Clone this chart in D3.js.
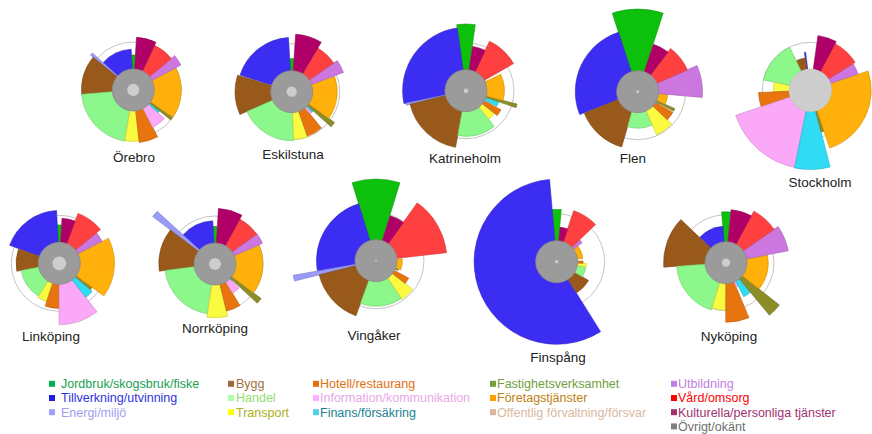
<!DOCTYPE html>
<html><head><meta charset="utf-8">
<script src="https://cdn.jsdelivr.net/npm/d3@7"></script>
<style>body{margin:0;background:#fff} svg{display:block} text{font-family:"Liberation Sans",Arial,sans-serif}</style>
</head><body><svg id="c" width="872" height="434"></svg>
<script>
const categories = ["Jordbruk/skogsbruk/fiske","Tillverkning/utvinning","Energi/miljö","Bygg","Handel","Transport","Hotell/restaurang","Information/kommunikation","Finans/försäkring","Fastighetsverksamhet","Företagstjänster","Offentlig förvaltning/försvar","Utbildning","Vård/omsorg","Kulturella/personliga tjänster","Övrigt/okänt"];
const municipalities = ["Örebro","Eskilstuna","Katrineholm","Flen","Stockholm","Linköping","Norrköping","Vingåker","Finspång","Nyköping"];

// angular share of each branch (sector width)
const shareOrebro      = [6, 45, 3, 44, 76, 16, 21, 20, 4, 4, 62, 0.5, 12, 25, 22, 0.5];
const shareEskilstuna  = [7, 69, 1, 41, 69, 17, 20, 5, 4, 6, 56, 0.5, 14, 25, 27, 0.5];
const shareKatrineholm = [16, 94, 2, 66, 49, 13, 10, 2, 8, 4, 40, 0.5, 4, 35, 17, 0.5];
const shareFlen        = [36, 94, 0.5, 52, 40, 23, 13, 1, 1, 4, 19, 0.5, 29, 29, 19, 0.5];
const shareStockholm   = [14, 2, 0.5, 16, 52, 15, 16, 60, 26, 4, 90, 0.5, 13, 30, 20, 1];
const shareLinkoping   = [6, 67, 0.5, 30, 47, 14, 18, 38, 12, 4, 63, 0.5, 12, 30, 17, 0.5];
const shareNorrkoping  = [6, 44, 5, 44, 73, 22, 17, 14, 2, 6, 59, 0.5, 12, 25, 25, 0.5];
const shareVingaker    = [34, 83, 4, 56, 54, 18, 10, 2, 2, 4, 24, 0.5, 2, 48, 18, 0.5];
const shareFinspang    = [10, 208, 0.5, 27, 20, 7, 5, 2, 2, 2, 29, 0.5, 7, 28, 13, 0.5];
const shareNykoping    = [10, 41, 0.5, 48, 69, 17, 23, 5, 12, 12, 49, 0.5, 24, 27, 23, 0.5];

// relative index of each branch (1 = reference circle)
const ratioOrebro      = [0.73, 0.85, 1.15, 1.08, 1.08, 1.07, 1.1, 0.88, 0.7, 1.0, 1.0, 0.4, 1.12, 1.03, 1.1, 0.4];
const ratioEskilstuna  = [0.69, 1.13, 0.5, 1.18, 1.02, 1.0, 0.98, 0.6, 0.6, 1.1, 0.95, 0.4, 1.15, 1.06, 1.2, 0.4];
const ratioKatrineholm = [1.39, 1.32, 1.28, 1.2, 0.95, 0.76, 0.83, 0.5, 0.72, 1.1, 0.8, 0.4, 0.45, 1.14, 0.93, 0.4];
const ratioFlen        = [1.72, 1.3, 0.5, 1.2, 0.76, 0.98, 0.85, 0.4, 0.5, 0.85, 0.63, 0.4, 1.35, 1.13, 1.04, 0.4];
const ratioStockholm   = [0.3, 0.8, 0.4, 0.68, 1.0, 0.77, 1.08, 1.64, 1.65, 0.9, 1.27, 0.4, 1.05, 1.1, 1.15, 0.4];
const ratioLinkoping   = [0.8, 1.1, 0.4, 0.9, 0.81, 0.84, 0.94, 1.28, 0.9, 0.85, 1.15, 0.4, 1.0, 1.11, 0.94, 0.4];
const ratioNorrkoping  = [0.78, 0.9, 1.63, 1.17, 1.05, 1.12, 1.01, 0.71, 0.5, 1.2, 1.0, 0.4, 1.08, 1.07, 1.16, 0.4];
const ratioVingaker    = [1.7, 1.24, 1.75, 1.22, 0.95, 0.97, 0.77, 0.4, 0.4, 0.5, 0.55, 0.4, 0.4, 1.48, 0.98, 0.4];
const ratioFinspang    = [1.09, 1.72, 0.4, 0.77, 0.62, 0.62, 0.55, 0.4, 0.4, 0.4, 0.55, 0.4, 0.66, 1.12, 0.72, 0.4];
const ratioNykoping    = [1.06, 0.76, 0.4, 1.3, 1.03, 0.99, 1.24, 0.55, 0.8, 1.42, 0.88, 0.4, 1.32, 1.22, 1.11, 0.4];

// size of municipality (inner light disc)
const sizes = [53, 37, 7, 3, 650, 66, 50, 1.2, 3.8, 24];

const shares = [shareOrebro, shareEskilstuna, shareKatrineholm, shareFlen, shareStockholm, shareLinkoping, shareNorrkoping, shareVingaker, shareFinspang, shareNykoping];
const ratios = [ratioOrebro, ratioEskilstuna, ratioKatrineholm, ratioFlen, ratioStockholm, ratioLinkoping, ratioNorrkoping, ratioVingaker, ratioFinspang, ratioNykoping];

// ---- styling / layout ----
const sectorColors = ["#0cc00c","#3c2df2","#9a9af8","#98591a","#8cf88c","#fafa40","#e8740e","#fca8f8","#30dcf4","#8c8c28","#ffb00a","#ddbb99","#cc77e0","#ff4040","#b00068","#888888"];
const legendSquare = ["#00b050","#2020e0","#a0a0ff","#a06838","#aaffaa","#ffff00","#e07010","#ffb0ff","#50d0e8","#70a040","#ffa000","#d8b8a0","#c080e0","#ff0000","#a03070","#808080"];
const legendText   = ["#20a050","#3030e0","#a0a0f0","#a07040","#90e070","#b0b020","#e07010","#e8a8e8","#208090","#70a040","#c08010","#d8b8a0","#c080e0","#ff0000","#a03070","#707070"];
const centers = [[133.3,90],[291.7,91.7],[466,90.7],[637.7,91.7],[810.3,90.3],[59.3,263.3],[215,264],[376,260.7],[556.7,261.7],[726,262.7]];
const labelPos = [[134,162],[293,159],[465,163],[633,163],[820,187],[51,341],[215,333],[374,340],[558,362],[729,341]];

const REF_R = 48, DISC_R = 21;
const svg = d3.select("#c");
const rScale = d3.scaleLinear().domain([0, 1]).range([0, REF_R]);
const sizeScale = d3.scaleSqrt().domain([0, d3.max(sizes)]).range([0, DISC_R + 0.5]);

municipalities.forEach((name, m) => {
  const share = shares[m], ratio = ratios[m];
  const total = d3.sum(share);
  const a0 = Math.PI * share[0] / total;   // first branch centred at 12 o'clock
  const pie = d3.pie().value(d => d).sort(null).startAngle(a0).endAngle(a0 - 2 * Math.PI);
  const arcs = pie(share);
  const arc = d3.arc().innerRadius(0).outerRadius((d) => rScale(ratio[d.index]));
  const g = svg.append("g").attr("transform", `translate(${centers[m][0]},${centers[m][1]})`);
  g.append("circle").attr("r", rScale(1)).attr("fill", "none").attr("stroke", "#c4c4c4").attr("stroke-width", 1);
  g.selectAll("path").data(arcs).join("path")
    .attr("d", arc)
    .attr("fill", (d) => sectorColors[d.index])
    .attr("stroke", (d) => d3.color(sectorColors[d.index]).darker(0.6))
    .attr("stroke-width", 0.6);
  g.append("circle").attr("r", DISC_R).attr("fill", "#9b9b9b").attr("stroke", "#8a8a8a").attr("stroke-width", 0.8);
  g.append("circle").attr("r", sizeScale(sizes[m])).attr("fill", "#cdcdcd");
  svg.append("text").attr("x", labelPos[m][0]).attr("y", labelPos[m][1])
    .attr("text-anchor", "middle").attr("font-size", 13.5).attr("fill", "#222").text(name);
});

// legend
const colSq = [49, 228, 313, 490, 671], colTx = [61, 236, 320, 497, 678];
const rowY = [383.8, 398.0, 412.2, 426.4];
const legendCols = [[0,1,2],[3,4,5],[6,7,8],[9,10,11],[12,13,14,15]];
legendCols.forEach((col, c) => {
  col.forEach((k, r) => {
    svg.append("rect").attr("x", colSq[c]).attr("y", rowY[r] - 3).attr("width", 6).attr("height", 6).attr("fill", legendSquare[k]);
    svg.append("text").attr("x", colTx[c]).attr("y", rowY[r] + 4.4).attr("font-size", 12.5)
      .attr("fill", legendText[k]).text(categories[k]);
  });
});
</script></body></html>
